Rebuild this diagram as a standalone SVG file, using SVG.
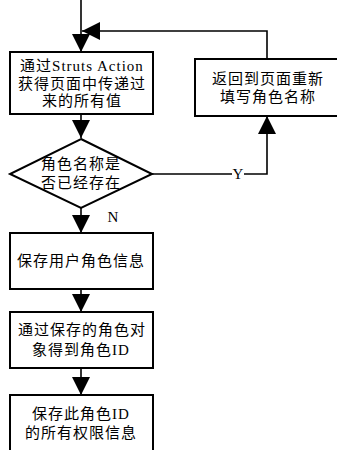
<svg xmlns="http://www.w3.org/2000/svg" width="337" height="450" viewBox="0 0 337 450">
<style>
.box{fill:#fff;stroke:#000;stroke-width:2}
.ln{fill:none;stroke:#000;stroke-width:1.6}
.t{font-family:"Liberation Serif","Noto Sans CJK SC",serif;font-size:15px;letter-spacing:1px;fill:#000;text-anchor:middle;dominant-baseline:central}
.lbl{font-family:"Liberation Serif",serif;font-size:15px;fill:#000;text-anchor:middle;dominant-baseline:central}
</style>
<defs>
<marker id="ah" markerUnits="userSpaceOnUse" markerWidth="18" markerHeight="18" viewBox="0 0 16 16" refX="16" refY="8" orient="auto">
<path d="M0,0 L16,8 L0,16 Z" fill="#000"/>
</marker>
</defs>
<rect width="337" height="450" fill="#fff"/>
<g id="connectors">
<path class="ln" d="M81,0 V52" marker-end="url(#ah)"/>
<path class="ln" d="M267,59 V31 H82" marker-end="url(#ah)"/>
<path class="ln" d="M81,114 V138" marker-end="url(#ah)"/>
<path class="ln" d="M152,174 H267 V116" marker-end="url(#ah)"/>
<rect x="232" y="166" width="12" height="16" fill="#fff"/>
<text class="lbl" x="238" y="174">Y</text>
<path class="ln" d="M81,208 V233" marker-end="url(#ah)"/>
<text class="lbl" x="113" y="217">N</text>
<path class="ln" d="M81,289 V312" marker-end="url(#ah)"/>
<path class="ln" d="M81,368 V395" marker-end="url(#ah)"/>
</g>
<g id="n1">
<rect class="box" x="10" y="52" width="143" height="62"/>
<text class="t" x="82" y="66">通过Struts Action</text>
<text class="t" x="82" y="83.5">获得页面中传递过</text>
<text class="t" x="82" y="101">来的所有值</text>
</g>
<g id="n2">
<rect class="box" x="195" y="59" width="150" height="57"/>
<text class="t" x="268" y="79">返回到页面重新</text>
<text class="t" x="268" y="97">填写角色名称</text>
</g>
<g id="n3">
<polygon class="box" points="81,139 152,174 81,208 10,174"/>
<text class="t" x="81" y="164">角色名称是</text>
<text class="t" x="81" y="183">否已经存在</text>
</g>
<g id="n4">
<rect class="box" x="10" y="233" width="143" height="56"/>
<text class="t" x="81" y="261">保存用户角色信息</text>
</g>
<g id="n5">
<rect class="box" x="10" y="312" width="143" height="56"/>
<text class="t" x="82" y="330">通过保存的角色对</text>
<text class="t" x="81" y="350">象得到角色ID</text>
</g>
<g id="n6">
<rect class="box" x="10" y="395" width="143" height="60"/>
<text class="t" x="81" y="414">保存此角色ID</text>
<text class="t" x="81" y="433">的所有权限信息</text>
</g>
</svg>
